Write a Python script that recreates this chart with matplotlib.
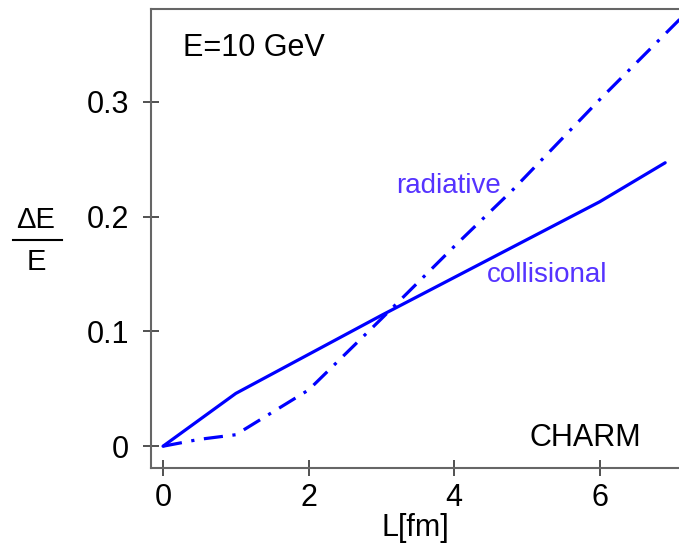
# Energy loss of a charm quark: collisional vs radiative
import numpy as np
import matplotlib.pyplot as plt
from matplotlib.lines import Line2D

plt.rcParams['font.family'] = ['Liberation Sans', 'DejaVu Sans']

L_coll = [0, 1, 2, 3, 4, 5, 6, 6.9]
dE_coll = [0, 0.046, 0.080, 0.114, 0.147, 0.180, 0.213, 0.247]

L_rad = [0, 0.5, 1, 2, 3, 4, 4.8, 6, 7.1]
dE_rad = [0, 0.006, 0.010, 0.049, 0.111, 0.174, 0.223, 0.302, 0.372]

x_ticks = [0, 2, 4, 6]
y_ticks = [0, 0.1, 0.2, 0.3]
y_ticklabels = ['0', '0.1', '0.2', '0.3']

blue = '#0000ff'
label_blue = '#5533ff'

fig = plt.figure(figsize=(6.79, 5.54), dpi=100)
ax = fig.add_axes([0.2224, 0.1552, 0.7776, 0.8286])

ax.plot(L_coll, dE_coll, color=blue, lw=2.3, solid_capstyle='round')
ax.plot(L_rad, dE_rad, color=blue, lw=2.3, linestyle=(0, (6, 3, 1, 3)))

ax.set_xlim(-0.165, 7.09)
ax.set_ylim(-0.019, 0.381)
ax.set_xticks(x_ticks)
ax.set_yticks(y_ticks)
ax.set_yticklabels(y_ticklabels)

for side in ['left', 'bottom', 'top']:
    ax.spines[side].set_color('#666666')
    ax.spines[side].set_linewidth(1.5)
ax.spines['right'].set_visible(False)

ax.tick_params(axis='both', direction='inout', length=12, width=1.2,
               color='#333333', labelsize=22)
ax.tick_params(axis='y', pad=10)
ax.tick_params(axis='x', pad=5)

ax.set_xlabel('L[fm]', fontsize=22, labelpad=0)

ax.text(0.06, 0.915, 'E=10 GeV', transform=ax.transAxes, fontsize=22,
        ha='left', va='center')
ax.text(0.465, 0.615, 'radiative', transform=ax.transAxes, fontsize=20,
        color=label_blue, ha='left', va='center')
ax.text(0.636, 0.42, 'collisional', transform=ax.transAxes, fontsize=20,
        color=label_blue, ha='left', va='center')
ax.text(0.717, 0.065, 'CHARM', transform=ax.transAxes, fontsize=22,
        ha='left', va='center')

# y label as a fraction
fig.text(0.053, 1 - 220 / 554, '\u0394E', fontsize=21, ha='center', va='center')
fig.text(0.053, 1 - 262 / 554, 'E', fontsize=21, ha='center', va='center')
fig.add_artist(Line2D([13 / 679, 62 / 679], [1 - 240 / 554, 1 - 240 / 554],
                      color='black', lw=1.5, transform=fig.transFigure))

fig.savefig('out.png', dpi=100)
